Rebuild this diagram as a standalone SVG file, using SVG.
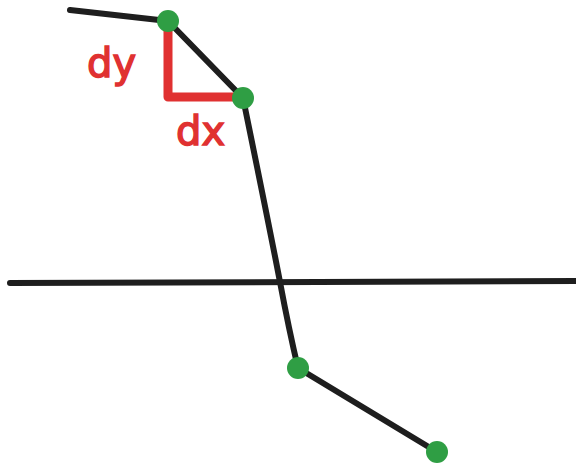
<svg xmlns="http://www.w3.org/2000/svg" width="576" height="464" viewBox="0 0 576 464">
<style>
.ln{fill:none;stroke:#1e1e1e;stroke-width:6;stroke-linecap:round;stroke-linejoin:round}
.rd{fill:none;stroke:#e03131;stroke-width:9;stroke-linecap:round;stroke-linejoin:round}
.pt{fill:#2f9e44}
.lb{font-family:"DejaVu Sans","Liberation Sans",sans-serif;font-size:40px;fill:#e03131;stroke:#e03131;stroke-width:1.5}
</style>
<rect width="576" height="464" fill="#fff"/>
<g id="connectors">
<path class="ln" d="M10 283 L576 281"/>
<path class="ln" d="M70 10 L168 21 L243 98 Q270 230 280 282 Q289 330 298 368 L437 452"/>
<path class="rd" d="M168 24 L168 97 L240 97"/>
</g>
<g id="label-dy"><text class="lb" x="87" y="77">dy</text></g>
<g id="label-dx"><text class="lb" x="176" y="145">dx</text></g>
<g id="p1"><circle class="pt" cx="168" cy="21" r="11"/></g>
<g id="p2"><circle class="pt" cx="243" cy="98" r="11"/></g>
<g id="p3"><circle class="pt" cx="298" cy="368" r="11"/></g>
<g id="p4"><circle class="pt" cx="437" cy="452" r="11"/></g>
</svg>
